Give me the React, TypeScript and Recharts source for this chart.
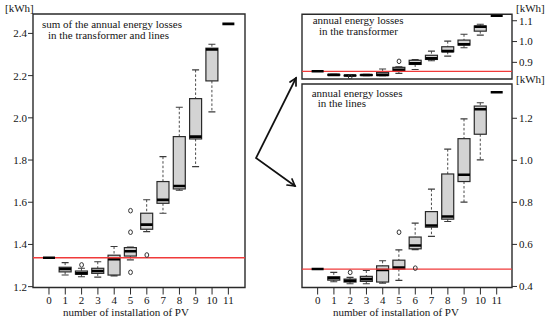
import React from "react";
import {
  ComposedChart,
  XAxis,
  YAxis,
  Bar,
  Scatter,
  ReferenceLine,
  ReferenceArea,
} from "recharts";

// ---------- data ----------
const categories = [0, 1, 2, 3, 4, 5, 6, 7, 8, 9, 10, 11];

// sum of transformer + lines
const sumLow = [1.337, 1.255, 1.247, 1.245, 1.251, 1.327, 1.461, 1.548, 1.657, 1.769, 2.028, 2.445];
const sumQ1 = [1.337, 1.27, 1.259, 1.263, 1.255, 1.345, 1.472, 1.595, 1.663, 1.9, 2.175, 2.445];
const sumMed = [1.337, 1.284, 1.263, 1.274, 1.33, 1.368, 1.494, 1.611, 1.677, 1.911, 2.324, 2.445];
const sumQ3 = [1.337, 1.292, 1.274, 1.287, 1.349, 1.385, 1.548, 1.698, 1.911, 2.091, 2.33, 2.445];
const sumHigh = [1.337, 1.314, 1.287, 1.318, 1.39, 1.388, 1.612, 1.816, 2.05, 2.227, 2.349, 2.445];
const sumOutX = [2, 5, 5, 5, 6];
const sumOutY = [1.303, 1.56, 1.458, 1.268, 1.35];
const sumBase = 1.337;
const sumTicks = [1.2, 1.4, 1.6, 1.8, 2.0, 2.2, 2.4];

// transformer
const trLow = [0.857, 0.837, 0.834, 0.836, 0.836, 0.847, 0.866, 0.908, 0.93, 0.97, 1.031, 1.124];
const trQ1 = [0.857, 0.838, 0.835, 0.837, 0.837, 0.861, 0.89, 0.914, 0.951, 0.983, 1.05, 1.124];
const trMed = [0.857, 0.84, 0.837, 0.839, 0.84, 0.864, 0.895, 0.919, 0.954, 0.987, 1.071, 1.124];
const trQ3 = [0.857, 0.842, 0.838, 0.841, 0.852, 0.876, 0.91, 0.934, 0.975, 1.007, 1.075, 1.124];
const trHigh = [0.857, 0.843, 0.839, 0.842, 0.868, 0.879, 0.914, 0.954, 1.002, 1.035, 1.083, 1.124];
const trOutX = [2, 5];
const trOutY = [0.831, 0.905];
const trBase = 0.857;
const trTicks = [0.9, 1.0, 1.1];

// lines
const lnLow = [0.483, 0.422, 0.413, 0.413, 0.416, 0.429, 0.575, 0.638, 0.709, 0.801, 1.002, 1.324];
const lnQ1 = [0.483, 0.43, 0.421, 0.424, 0.421, 0.483, 0.579, 0.682, 0.72, 0.899, 1.124, 1.324];
const lnMed = [0.483, 0.44, 0.427, 0.435, 0.478, 0.49, 0.595, 0.69, 0.733, 0.931, 1.243, 1.324];
const lnQ3 = [0.483, 0.446, 0.435, 0.448, 0.498, 0.525, 0.635, 0.756, 0.935, 1.103, 1.258, 1.324];
const lnHigh = [0.483, 0.467, 0.443, 0.476, 0.522, 0.574, 0.701, 0.863, 1.053, 1.197, 1.274, 1.324];
const lnOutX = [2, 5, 6];
const lnOutY = [0.467, 0.658, 0.487];
const lnBase = 0.482;
const lnTicks = [0.4, 0.6, 0.8, 1.0, 1.2];

// ---------- styling ----------
const FONT = '"Liberation Serif", "Times New Roman", serif';
const FS = 11;
const TXT = "#141414";
const FRAME = "#2a2a2a";
const BOXFILL = "#d3d3d3";
const RED = "#f03a3a";

function buildRows(lo: number[], q1: number[], med: number[], q3: number[], hi: number[]) {
  return categories.map((c, i) => ({
    x: c,
    lo: lo[i],
    q1: q1[i],
    med: med[i],
    q3: q3[i],
    hi: hi[i],
    range: hi[i] > lo[i] ? [lo[i], hi[i]] : null,
  }));
}
function buildSingles(lo: number[], hi: number[]) {
  return categories
    .map((c, i) => ({ x: c, y: lo[i], single: hi[i] === lo[i] }))
    .filter((d) => d.single);
}
function buildOut(xs: number[], ys: number[]) {
  return xs.map((x, i) => ({ x, y: ys[i] }));
}

const BoxShape = (props: any) => {
  const { x, y, width, height, payload } = props;
  if (!payload || payload.range == null) return null;
  const { lo, q1, med, q3, hi } = payload;
  const top = Math.min(y, y + height);
  const bot = Math.max(y, y + height);
  const py = (v: number) => top + ((hi - v) / (hi - lo)) * (bot - top);
  const cx = x + width / 2;
  const cap = 3.5;
  return (
    <g>
      <line x1={cx} x2={cx} y1={py(hi)} y2={py(q3)} stroke="#4a4a4a" strokeWidth={1} strokeDasharray="2.5 2" />
      <line x1={cx} x2={cx} y1={py(q1)} y2={py(lo)} stroke="#4a4a4a" strokeWidth={1} strokeDasharray="2.5 2" />
      <line x1={cx - cap} x2={cx + cap} y1={py(hi)} y2={py(hi)} stroke="#3a3a3a" strokeWidth={1.1} />
      <line x1={cx - cap} x2={cx + cap} y1={py(lo)} y2={py(lo)} stroke="#3a3a3a" strokeWidth={1.1} />
      <rect x={x} y={py(q3)} width={width} height={Math.max(py(q1) - py(q3), 0.5)} fill={BOXFILL} stroke={FRAME} strokeWidth={1.2} />
      <line x1={x} x2={x + width} y1={py(med)} y2={py(med)} stroke="#000" strokeWidth={2.6} />
    </g>
  );
};

const MedShape = (props: any) => {
  const { cx, cy } = props;
  return <line x1={cx - 6} x2={cx + 6} y1={cy} y2={cy} stroke="#000" strokeWidth={2.6} />;
};
const OutShape = (props: any) => {
  const { cx, cy } = props;
  return <ellipse cx={cx} cy={cy} rx={1.9} ry={2.3} fill="none" stroke="#333" strokeWidth={1} />;
};

const tickStyle = { fontSize: FS, fill: TXT, fontFamily: FONT };

type PanelProps = {
  rows: any[];
  singles: any[];
  outs: any[];
  base: number;
  xDomain: [number, number];
  yDomain: [number, number];
  yTicks: number[];
  margin: any;
  yRight: boolean;
  showX: boolean;
  yWidth: number;
};

function Panel(p: PanelProps) {
  return (
    <ComposedChart
      width={550}
      height={323}
      data={p.rows}
      margin={p.margin}
      style={{ position: "absolute", left: 0, top: 0 }}
    >
      <XAxis
        dataKey="x"
        type="number"
        domain={p.xDomain}
        ticks={categories}
        interval={0}
        allowDataOverflow
        hide={!p.showX}
        height={p.showX ? 35.5 : 0}
        axisLine={false}
        tickSize={7}
        tickMargin={2}
        tickLine={{ stroke: FRAME }}
        tick={tickStyle}
      />
      <YAxis
        type="number"
        orientation={p.yRight ? "right" : "left"}
        domain={p.yDomain}
        ticks={p.yTicks}
        allowDataOverflow
        width={p.yWidth}
        axisLine={false}
        tickSize={5}
        tickMargin={p.yRight ? 2 : 1}
        tickLine={{ stroke: FRAME }}
        tick={tickStyle}
        tickFormatter={(v: number) => v.toFixed(1)}
      />
      <ReferenceArea
        x1={p.xDomain[0]}
        x2={p.xDomain[1]}
        y1={p.yDomain[0]}
        y2={p.yDomain[1]}
        fill="none"
        stroke={FRAME}
        strokeWidth={1.4}
        ifOverflow="visible"
      />
      <Bar dataKey="range" barSize={12} shape={BoxShape} isAnimationActive={false} />
      <Scatter data={p.singles} dataKey="y" shape={MedShape} isAnimationActive={false} />
      <Scatter data={p.outs} dataKey="y" shape={OutShape} isAnimationActive={false} />
      <ReferenceLine y={p.base} stroke={RED} strokeWidth={1.3} ifOverflow="visible" />
    </ComposedChart>
  );
}

export default function App() {
  const sumRows = buildRows(sumLow, sumQ1, sumMed, sumQ3, sumHigh);
  const trRows = buildRows(trLow, trQ1, trMed, trQ3, trHigh);
  const lnRows = buildRows(lnLow, lnQ1, lnMed, lnQ3, lnHigh);
  const textProps = { fontFamily: FONT, fontSize: FS, fill: TXT };
  return (
    <div style={{ position: "absolute", left: 0, top: 0, width: 550, height: 323, background: "#fff" }}>
      <Panel
        rows={sumRows}
        singles={buildSingles(sumLow, sumHigh)}
        outs={buildOut(sumOutX, sumOutY)}
        base={sumBase}
        xDomain={[-0.98, 12.02]}
        yDomain={[1.196, 2.492]}
        yTicks={sumTicks}
        margin={{ top: 14, right: 305, bottom: 0, left: 0 }}
        yRight={false}
        showX={true}
        yWidth={33}
      />
      <Panel
        rows={trRows}
        singles={buildSingles(trLow, trHigh)}
        outs={buildOut(trOutX, trOutY)}
        base={trBase}
        xDomain={[-0.96, 11.94]}
        yDomain={[0.82, 1.131]}
        yTicks={trTicks}
        margin={{ top: 14.3, right: 0, bottom: 244, left: 302 }}
        yRight={true}
        showX={false}
        yWidth={38}
      />
      <Panel
        rows={lnRows}
        singles={buildSingles(lnLow, lnHigh)}
        outs={buildOut(lnOutX, lnOutY)}
        base={lnBase}
        xDomain={[-0.96, 11.94]}
        yDomain={[0.395, 1.363]}
        yTicks={lnTicks}
        margin={{ top: 84, right: 0, bottom: 0, left: 302 }}
        yRight={true}
        showX={true}
        yWidth={38}
      />
      <svg width={550} height={323} style={{ position: "absolute", left: 0, top: 0, pointerEvents: "none" }}>
        <text x={5} y={12} {...textProps}>[kWh]</text>
        <text x={42} y={27.5} {...textProps}>sum of the annual energy losses</text>
        <text x={48} y={38.5} {...textProps}>in the transformer and lines</text>
        <text x={126} y={316} textAnchor="middle" {...textProps}>number of installation of PV</text>

        <text x={516} y={12} {...textProps}>[kWh]</text>
        <text x={312.7} y={23.5} {...textProps}>annual energy losses</text>
        <text x={319} y={35} {...textProps}>in the transformer</text>

        <text x={516} y={83} {...textProps}>[kWh]</text>
        <text x={311.7} y={96.5} {...textProps}>annual energy losses</text>
        <text x={317.7} y={107} {...textProps}>in the lines</text>
        <text x={396} y={315.5} textAnchor="middle" {...textProps}>number of installation of PV</text>

        <g stroke="#111" strokeWidth={1.7} fill="none" strokeLinecap="round">
          <polyline points="296,78 256,158 295,186" />
          <polyline points="290,82 296,78 296,86" />
          <polyline points="287,185 295,186 292,179" />
        </g>
      </svg>
    </div>
  );
}
